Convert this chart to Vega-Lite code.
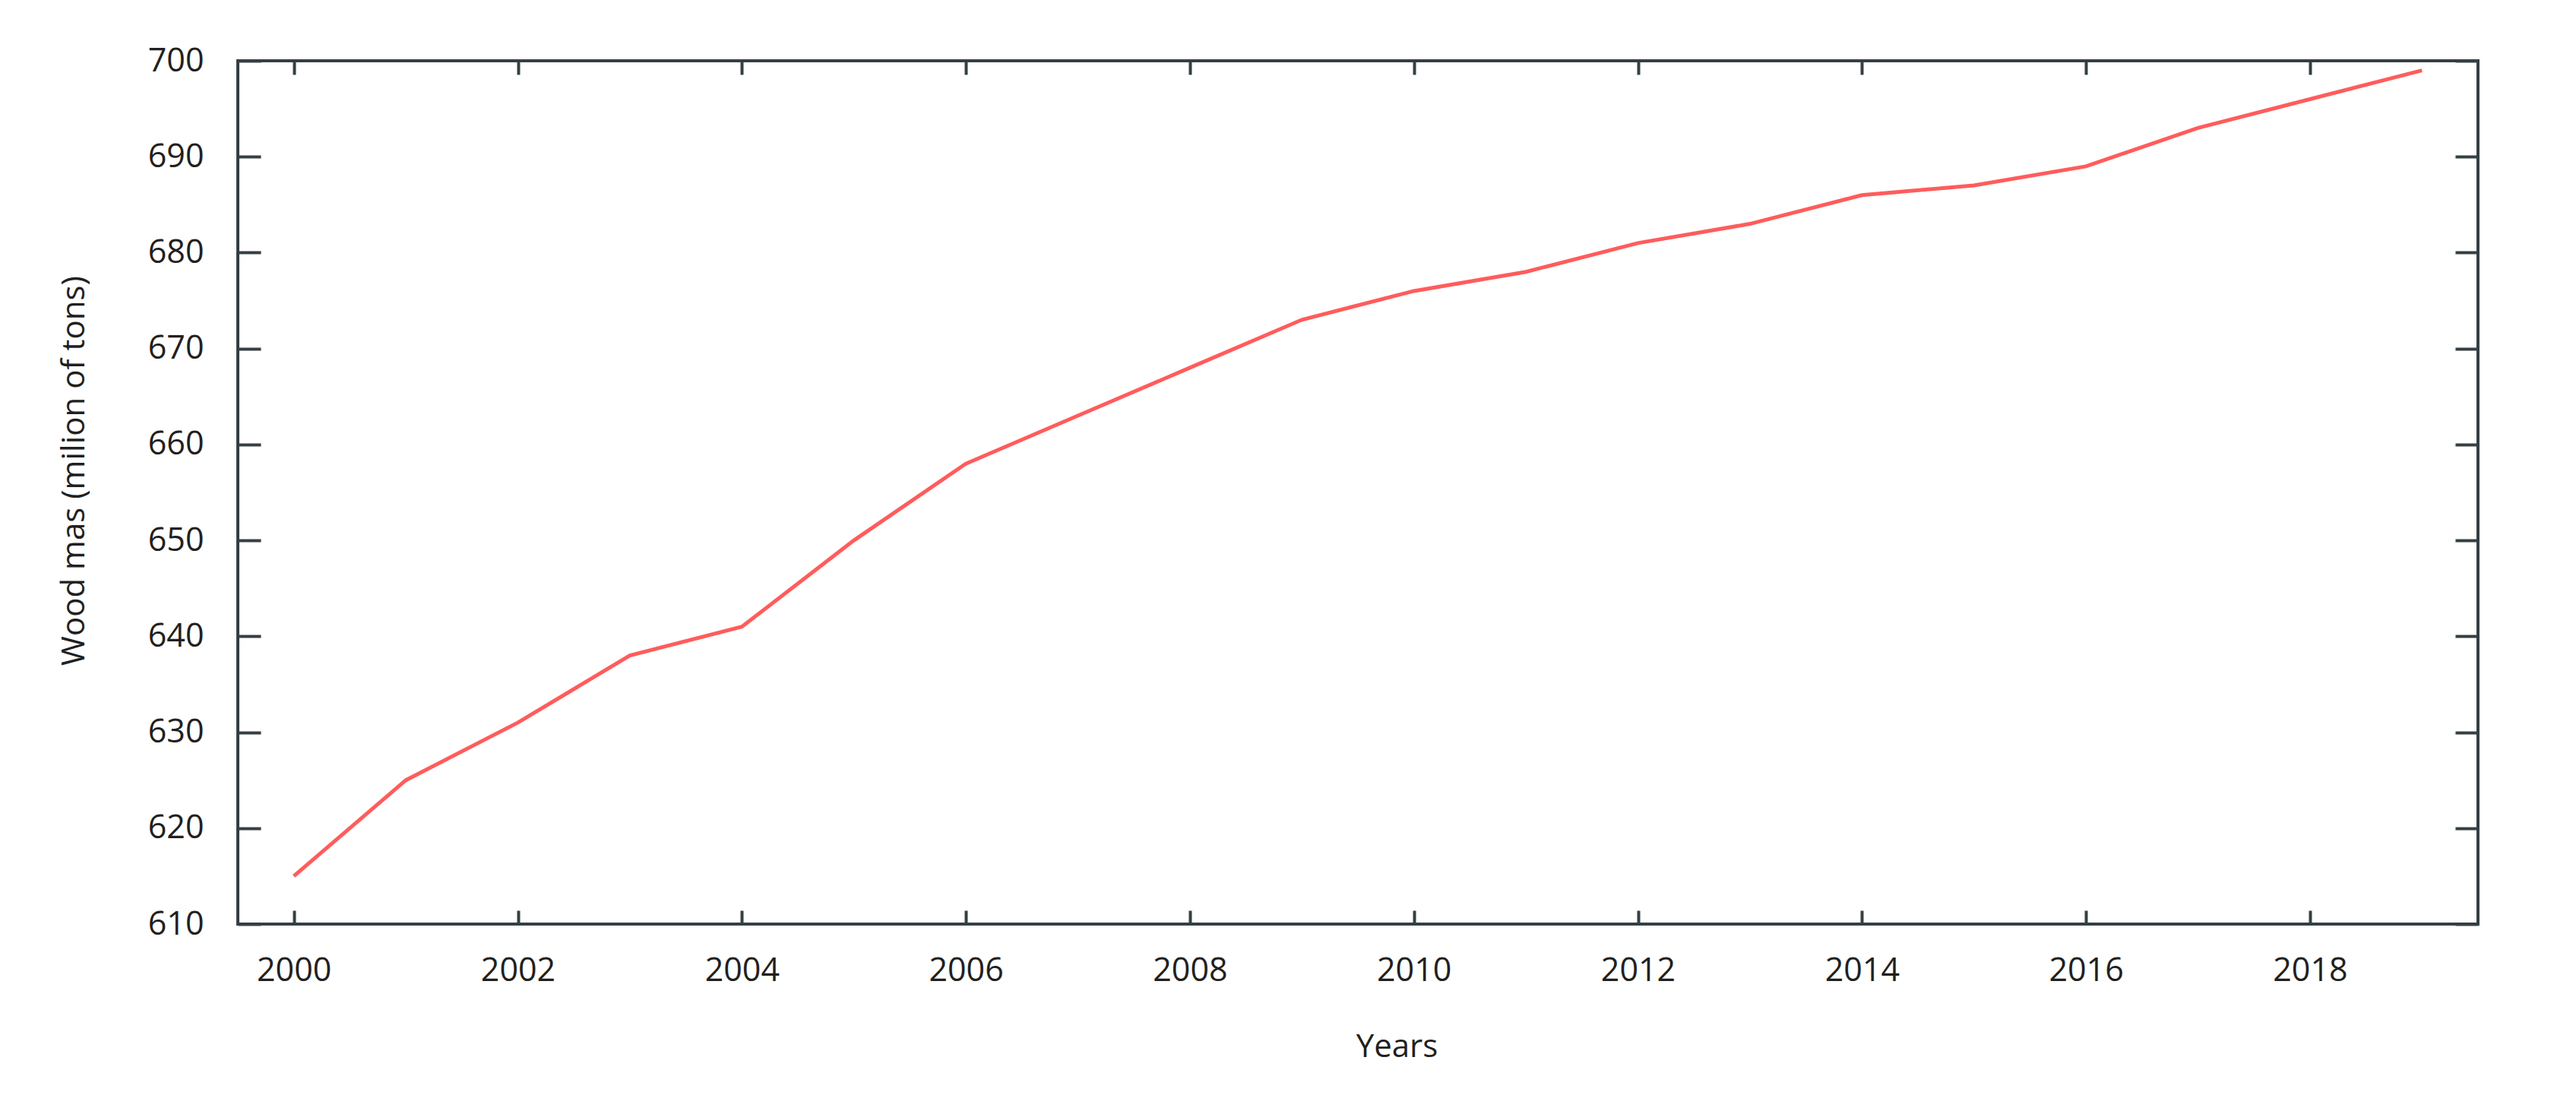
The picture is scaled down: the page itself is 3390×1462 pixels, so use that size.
{
  "$schema": "https://vega.github.io/schema/vega-lite/v6.json",
  "autosize": {"type": "none"},
  "padding": {"left": 313, "top": 80, "right": 129, "bottom": 246},
  "width": 2948,
  "height": 1136,
  "background": "white",
  "config": {
    "view": {"stroke": "#353f44", "strokeWidth": 4},
    "font": "Open Sans",
    "axis": {
      "domain": false,
      "grid": false,
      "tickColor": "#353f44",
      "tickWidth": 4,
      "labelFont": "Open Sans",
      "labelFontSize": 43,
      "labelColor": "#231f20",
      "titleFont": "Open Sans",
      "titleFontSize": 42,
      "titleFontWeight": "normal",
      "titleColor": "#231f20"
    }
  },
  "data": {
    "values": [
      {"year": 2000, "mass": 615},
      {"year": 2001, "mass": 625},
      {"year": 2002, "mass": 631},
      {"year": 2003, "mass": 638},
      {"year": 2004, "mass": 641},
      {"year": 2005, "mass": 650},
      {"year": 2006, "mass": 658},
      {"year": 2007, "mass": 663},
      {"year": 2008, "mass": 668},
      {"year": 2009, "mass": 673},
      {"year": 2010, "mass": 676},
      {"year": 2011, "mass": 678},
      {"year": 2012, "mass": 681},
      {"year": 2013, "mass": 683},
      {"year": 2014, "mass": 686},
      {"year": 2015, "mass": 687},
      {"year": 2016, "mass": 689},
      {"year": 2017, "mass": 693},
      {"year": 2018, "mass": 696},
      {"year": 2019, "mass": 699}
    ]
  },
  "resolve": {"axis": {"x": "independent", "y": "independent"}},
  "layer": [
    {
      "mark": {"type": "line", "color": "#ff5c5c", "strokeWidth": 5},
      "encoding": {
        "x": {
          "field": "year", "type": "quantitative",
          "scale": {"domain": [1999.5, 2019.5], "nice": false, "zero": false},
          "axis": {
            "orient": "bottom", "title": "Years", "values": [2000, 2002, 2004, 2006, 2008, 2010, 2012, 2014, 2016, 2018],
            "format": "d", "tickSize": -18, "labelPadding": 58,
            "titleX": 1525, "titleY": 161, "titleBaseline": "middle", "titleAlign": "center", "titleAnchor": null
          }
        },
        "y": {
          "field": "mass", "type": "quantitative",
          "scale": {"domain": [610, 700], "nice": false, "zero": false},
          "axis": {
            "orient": "left", "title": "Wood mas (milion of tons)", "values": [610, 620, 630, 640, 650, 660, 670, 680, 690, 700],
            "format": "d", "tickSize": -30, "labelPadding": 75,
            "titleX": -216, "titleY": 539, "titleAngle": -90, "titleBaseline": "middle", "titleAlign": "center", "titleAnchor": null
          }
        }
      }
    },
    {
      "mark": {"type": "line", "color": "#ff5c5c", "strokeWidth": 5, "opacity": 0},
      "encoding": {
        "x": {
          "field": "year", "type": "quantitative",
          "scale": {"domain": [1999.5, 2019.5], "nice": false, "zero": false},
          "axis": {"orient": "top", "title": null, "labels": false, "values": [2000, 2002, 2004, 2006, 2008, 2010, 2012, 2014, 2016, 2018], "tickSize": -18}
        },
        "y": {
          "field": "mass", "type": "quantitative",
          "scale": {"domain": [610, 700], "nice": false, "zero": false},
          "axis": {"orient": "right", "title": null, "labels": false, "values": [610, 620, 630, 640, 650, 660, 670, 680, 690, 700], "tickSize": -30}
        }
      }
    }
  ]
}
